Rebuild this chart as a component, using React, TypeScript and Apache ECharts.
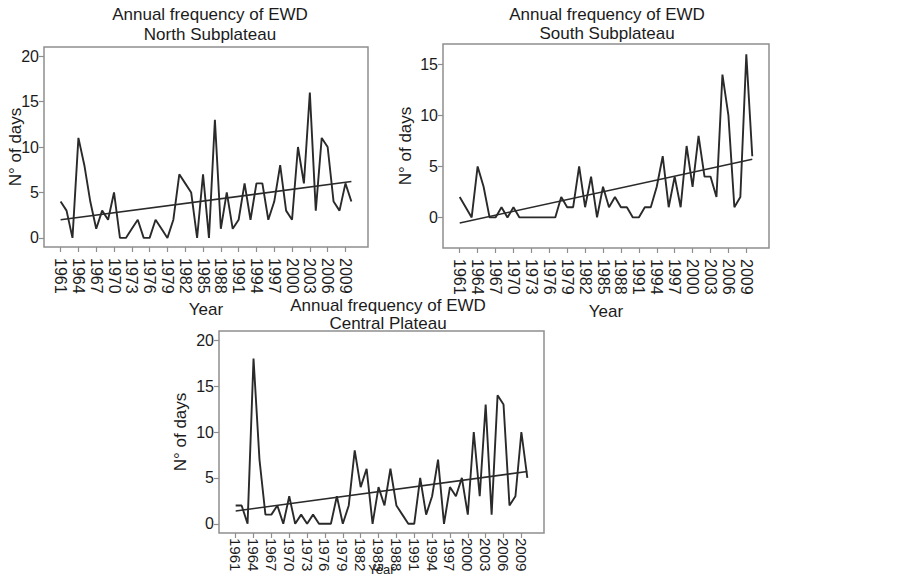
import React, { useEffect, useRef } from "react";
import * as echarts from "echarts";

const years: number[] = Array.from({ length: 50 }, (_, i) => 1961 + i);
const yearTicks: number[] = [1961, 1964, 1967, 1970, 1973, 1976, 1979, 1982, 1985, 1988, 1991, 1994, 1997, 2000, 2003, 2006, 2009];

const northValues: number[] = [
  4, 3, 0, 11, 8, 4, 1, 3, 2, 5,
  0, 0, 1, 2, 0, 0, 2, 1, 0, 2,
  7, 6, 5, 0, 7, 0, 13, 1, 5, 1,
  2, 6, 2, 6, 6, 2, 4, 8, 3, 2,
  10, 6, 16, 3, 11, 10, 4, 3, 6, 4,
];
const southValues: number[] = [
  2, 1, 0, 5, 3, 0, 0, 1, 0, 1,
  0, 0, 0, 0, 0, 0, 0, 2, 1, 1,
  5, 1, 4, 0, 3, 1, 2, 1, 1, 0,
  0, 1, 1, 3, 6, 1, 4, 1, 7, 3,
  8, 4, 4, 2, 14, 10, 1, 2, 16, 6,
];
const centralValues: number[] = [
  2, 2, 0, 18, 7, 1, 1, 2, 0, 3,
  0, 1, 0, 1, 0, 0, 0, 3, 0, 2,
  8, 4, 6, 0, 4, 2, 6, 2, 1, 0,
  0, 5, 1, 3, 7, 0, 4, 3, 5, 1,
  10, 3, 13, 1, 14, 13, 2, 3, 10, 5,
];

const trendYears: number[] = [1961, 2010];
const northTrend: number[] = [2.0, 6.2];
const southTrend: number[] = [-0.55, 5.7];
const centralTrend: number[] = [1.4, 5.7];

const yTicksNorth: number[] = [0, 5, 10, 15, 20];
const yTicksSouth: number[] = [0, 5, 10, 15];
const yTicksCentral: number[] = [0, 5, 10, 15, 20];

const titleMain = "Annual frequency of EWD";
const titleNorth = "North Subplateau";
const titleSouth = "South Subplateau";
const titleCentral = "Central Plateau";
const yName = "N° of days";
const xName = "Year";

const FONT = "'Liberation Sans', Arial, sans-serif";
const FRAME = "#8e8e8e";
const LINE = "#2a2a2a";
const TEXT = "#1b1b1b";

export default function App() {
  const ref = useRef<HTMLDivElement>(null);
  useEffect(() => {
    if (!ref.current) return;
    const chart = echarts.init(ref.current, undefined, { renderer: "svg" });

    const grids = [
      { left: 44, top: 47, width: 324, height: 200 },
      { left: 443, top: 44, width: 326, height: 204 },
      { left: 219, top: 331, width: 325, height: 202 },
    ].map((g) => ({
      ...g,
      show: true,
      borderColor: FRAME,
      borderWidth: 1.5,
      backgroundColor: "transparent",
      containLabel: false,
      outerBoundsMode: "none",
    }));

    const xCfg = [
      { labelSize: 16, labelMargin: 11, nameGap: 54, nameSize: 17 },
      { labelSize: 16, labelMargin: 11, nameGap: 55, nameSize: 17 },
      { labelSize: 15, labelMargin: 5, nameGap: 30, nameSize: 13 },
    ];
    const xAxis = xCfg.map((c, i) => ({
      type: "value",
      gridIndex: i,
      min: 1958.2,
      max: 2012.8,
      name: xName,
      nameLocation: "middle",
      nameGap: c.nameGap,
      nameMoveOverlap: false,
      nameTextStyle: { fontSize: c.nameSize, color: TEXT, fontFamily: FONT },
      axisLine: { show: false, onZero: false },
      axisTick: { show: true, length: 5, customValues: yearTicks, lineStyle: { color: FRAME, width: 1.2 } },
      axisLabel: {
        customValues: yearTicks,
        rotate: -90,
        margin: c.labelMargin,
        fontSize: c.labelSize,
        color: TEXT,
        fontFamily: FONT,
        formatter: (v: number) => String(v),
      },
      splitLine: { show: false },
    }));

    const yCfg = [
      { min: -1, max: 21, ticks: yTicksNorth, nameGap: 20 },
      { min: -3, max: 17, ticks: yTicksSouth, nameGap: 29 },
      { min: -1, max: 21, ticks: yTicksCentral, nameGap: 30 },
    ];
    const yAxis = yCfg.map((c, i) => ({
      type: "value",
      gridIndex: i,
      min: c.min,
      max: c.max,
      name: yName,
      nameLocation: "middle",
      nameGap: c.nameGap,
      nameMoveOverlap: false,
      nameTextStyle: { fontSize: 17, color: TEXT, fontFamily: FONT },
      axisLine: { show: false, onZero: false },
      axisTick: { show: true, length: 5, customValues: c.ticks, lineStyle: { color: FRAME, width: 1.2 } },
      axisLabel: {
        customValues: c.ticks,
        margin: 5,
        fontSize: 16,
        color: TEXT,
        fontFamily: FONT,
      },
      splitLine: { show: false },
    }));

    const valueSets = [northValues, southValues, centralValues];
    const trendSets = [northTrend, southTrend, centralTrend];
    const series: any[] = [];
    valueSets.forEach((vals, i) => {
      series.push({
        type: "line",
        xAxisIndex: i,
        yAxisIndex: i,
        data: years.map((y, k) => [y, vals[k]]),
        symbol: "none",
        lineStyle: { color: LINE, width: 1.9 },
        silent: true,
      });
      series.push({
        type: "line",
        xAxisIndex: i,
        yAxisIndex: i,
        data: trendYears.map((y, k) => [y, trendSets[i][k]]),
        symbol: "none",
        lineStyle: { color: LINE, width: 1.6 },
        silent: true,
      });
    });

    const titles = [
      { sub: titleNorth, x: 210, top: 4, lh: 20 },
      { sub: titleSouth, x: 607, top: 5, lh: 19 },
      { sub: titleCentral, x: 388, top: 296, lh: 18 },
    ].map((t) => ({
      text: titleMain + "\n" + t.sub,
      left: t.x,
      top: t.top,
      textAlign: "center",
      padding: 0,
      textStyle: { fontSize: 17, fontWeight: "normal", color: TEXT, fontFamily: FONT, lineHeight: t.lh },
    }));

    chart.setOption({
      animation: false,
      backgroundColor: "#ffffff",
      title: titles,
      grid: grids,
      xAxis,
      yAxis,
      series,
    });
    return () => chart.dispose();
  }, []);
  return (
    <div
      ref={ref}
      style={{ position: "absolute", left: 0, top: 0, width: 902, height: 580, background: "#fff" }}
    />
  );
}
